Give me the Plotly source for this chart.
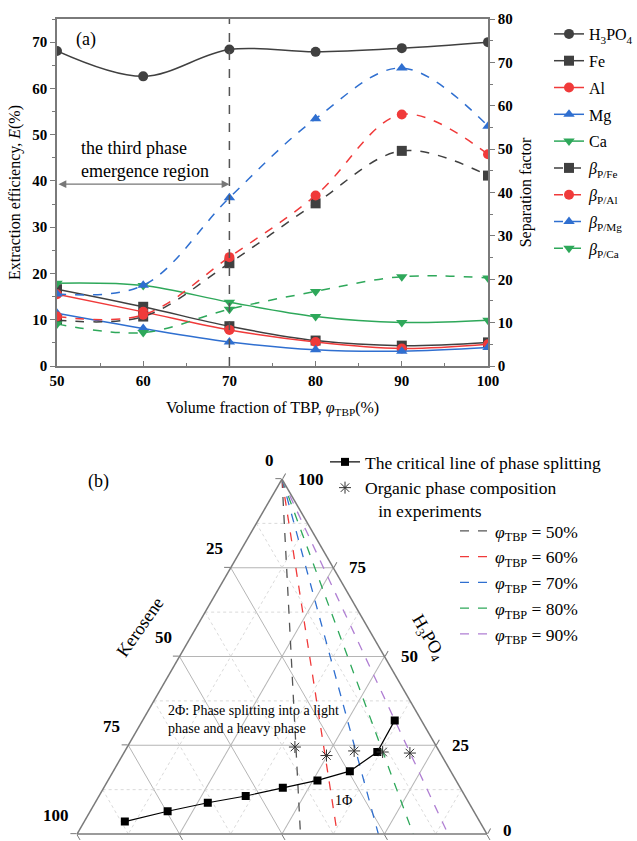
import plotly.graph_objects as go

# ---------------- data : panel (a) ----------------
tbp_fraction = [50, 60, 70, 80, 90, 100]
e_h3po4 = [68.1, 62.6, 68.4, 67.9, 68.7, 70.0]
e_fe = [16.6, 12.8, 8.6, 5.5, 4.4, 5.1]
e_al = [15.5, 11.7, 7.8, 5.2, 3.8, 4.7]
e_mg = [11.4, 8.1, 5.2, 3.5, 3.2, 4.0]
e_ca = [17.9, 17.4, 13.8, 10.7, 9.4, 9.9]
beta_fe = [10.6, 11.4, 23.7, 37.5, 49.6, 43.9]
beta_al = [11.4, 11.8, 25.1, 39.3, 58.0, 48.8]
beta_mg = [16.6, 18.6, 38.8, 57.0, 68.7, 55.3]
beta_ca = [9.7, 7.7, 13.1, 17.2, 20.6, 20.3]
third_phase_limit = 70
x_ticks = [50, 60, 70, 80, 90, 100]

# ---------------- data : panel (b) ----------------
crit_h3po4 = [3.5, 6.4, 8.8, 10.7, 13.0, 15.1, 17.7, 23.1, 32.0]
crit_kerosene = [86.5, 74.7, 63.7, 53.5, 43.3, 33.8, 24.6, 15.2, 6.5]
crit_tbp = [9.9, 18.9, 27.5, 35.8, 43.7, 51.1, 57.7, 61.7, 61.5]
exp_h3po4 = [24.5, 22.1, 23.4, 23.1, 22.8]
exp_kerosene = [34.6, 28.1, 20.7, 13.9, 7.4]
exp_tbp = [40.9, 49.8, 55.9, 63.0, 69.8]
phi_labels = [50, 60, 70, 80, 90]
phi_base_tbp = [54.5, 63.5, 73.5, 82.0, 90.5]
tern_major = [0, 25, 50, 75, 100]
tern_minor = [12.5, 37.5, 62.5, 87.5]

W, H = 637, 841
SERIF = "Liberation Serif"
GRAY = "#404040"
RED = "#f03a3a"
BLUE = "#2f6fd0"
GREEN = "#2ea85a"
PURPLE = "#b07fd3"
AX = "#7a7a7a"

# triangle corners (pixels) of panel (b)
APEX = (282.0, 479.0)
BL = (77.0, 834.0)
BR = (487.0, 834.0)

fig = go.Figure()


def px_x(p):
    return p / W


def px_y(p):
    return 1 - p / H


solid = [("H<sub>3</sub>PO<sub>4</sub>", e_h3po4, GRAY, "circle"),
         ("Fe", e_fe, GRAY, "square"),
         ("Al", e_al, RED, "circle"),
         ("Mg", e_mg, BLUE, "triangle-up"),
         ("Ca", e_ca, GREEN, "triangle-down")]
for name, vals, col, sym in solid:
    fig.add_trace(go.Scatter(x=tbp_fraction, y=vals, name=name, mode="lines+markers",
                             line=dict(color=col, width=1.5, shape="spline"),
                             marker=dict(symbol=sym, size=10, color=col),
                             legendgroup=name, xaxis="x", yaxis="y", legend="legend"))
dashed = [("<i>β</i><sub>P/Fe</sub>", beta_fe, GRAY, "square"),
          ("<i>β</i><sub>P/Al</sub>", beta_al, RED, "circle"),
          ("<i>β</i><sub>P/Mg</sub>", beta_mg, BLUE, "triangle-up"),
          ("<i>β</i><sub>P/Ca</sub>", beta_ca, GREEN, "triangle-down")]
for name, vals, col, sym in dashed:
    fig.add_trace(go.Scatter(x=tbp_fraction, y=vals, name=name, mode="lines+markers",
                             line=dict(color=col, width=1.5, shape="spline", dash="dash"),
                             marker=dict(symbol=sym, size=10, color=col),
                             legendgroup=name, xaxis="x", yaxis="y2", legend="legend"))

fig.add_vline(x=third_phase_limit, line=dict(color="#555555", width=1.5, dash="dash"))

# ---------------- ternary ----------------
for v in tern_minor:
    for a, b, c in [([v, v], [100 - v, 0], [0, 100 - v]),
                    ([100 - v, 0], [v, v], [0, 100 - v]),
                    ([100 - v, 0], [0, 100 - v], [v, v])]:
        fig.add_trace(go.Scatterternary(a=a, b=b, c=c, mode="lines", showlegend=False,
                                        hoverinfo="skip",
                                        line=dict(color="#d0d0d0", width=0.8, dash="dot")))

phi_cols = ["#555555", RED, BLUE, GREEN, PURPLE]
for lab, c0, col in zip(phi_labels, phi_base_tbp, phi_cols):
    nm = f"<i>φ</i><sub>TBP</sub> = {lab}%"
    fig.add_trace(go.Scatterternary(a=[100, 0], b=[0, 100 - c0], c=[0, c0],
                                    name=nm, legendgroup=nm,
                                    mode="lines", line=dict(color=col, width=1.3, dash="dash"),
                                    legend="legend3"))

fig.add_trace(go.Scatterternary(a=crit_h3po4, b=crit_kerosene, c=crit_tbp,
                                name="The critical line of phase splitting",
                                mode="lines+markers", line=dict(color="black", width=1.2),
                                marker=dict(symbol="square", size=8, color="black"),
                                legend="legend2"))
fig.add_trace(go.Scatterternary(a=exp_h3po4, b=exp_kerosene, c=exp_tbp,
                                name="Organic phase composition<br>   in experiments",
                                mode="markers",
                                marker=dict(symbol="asterisk-open", size=10, color="#333333",
                                            line=dict(color="#333333", width=1)),
                                legend="legend2"))

tern_axis = dict(tickvals=tern_major, ticks="outside", ticklen=6, tickcolor=AX,
                 linecolor=AX, linewidth=1.5, showline=True, gridcolor="#b5b5b5",
                 gridwidth=1, showticklabels=False, title=dict(text=""))

fig.update_layout(
    width=W, height=H,
    margin=dict(l=0, r=0, t=0, b=0, autoexpand=False),
    paper_bgcolor="white", plot_bgcolor="white",
    font=dict(family=SERIF, size=15, color="black"),
    xaxis=dict(domain=[px_x(57), px_x(488)], range=[50, 100], anchor="y",
               tickvals=x_ticks, ticks="inside", ticklen=5, tickcolor=AX,
               minor=dict(dtick=5, ticks="inside", ticklen=3, tickcolor=AX),
               showline=True, linecolor=AX, linewidth=1.5, mirror=True,
               showgrid=False, zeroline=False, automargin=False,
               tickfont=dict(family=SERIF, size=15, weight="bold"),
               title=dict(text="Volume fraction of TBP, <i>φ</i><sub>TBP</sub>(%)",
                          font=dict(family=SERIF, size=16), standoff=14)),
    yaxis=dict(domain=[px_y(366), px_y(19)], range=[0, 75], anchor="x",
               dtick=10, ticks="outside", ticklen=5, tickcolor=AX,
               minor=dict(dtick=5, ticks="outside", ticklen=3, tickcolor=AX),
               showline=True, linecolor=AX, linewidth=1.5,
               showgrid=False, zeroline=False, automargin=False,
               tickfont=dict(family=SERIF, size=15, weight="bold"),
               title=dict(text="Extraction efficiency, <i>E</i>(%)",
                          font=dict(family=SERIF, size=16), standoff=8)),
    yaxis2=dict(overlaying="y", side="right", anchor="x", range=[0, 80],
                dtick=10, ticks="outside", ticklen=5, tickcolor=AX,
                minor=dict(dtick=5, ticks="outside", ticklen=3, tickcolor=AX),
                showline=True, linecolor=AX, linewidth=1.5,
                showgrid=False, zeroline=False, automargin=False,
                tickfont=dict(family=SERIF, size=15, weight="bold"),
                title=dict(text="Separation factor", font=dict(family=SERIF, size=16),
                           standoff=8)),
    ternary=dict(domain=dict(x=[px_x(BL[0]), px_x(BR[0])], y=[px_y(BL[1]), px_y(APEX[1])]),
                 sum=100, bgcolor="white",
                 aaxis=dict(tern_axis),
                 baxis=dict(tern_axis),
                 caxis=dict(tern_axis)),
    legend=dict(x=px_x(549), y=px_y(17), xanchor="left", yanchor="top",
                bgcolor="rgba(0,0,0,0)", font=dict(family=SERIF, size=16),
                tracegroupgap=3, itemwidth=30, traceorder="grouped"),
    legend2=dict(x=px_x(325), y=px_y(444), xanchor="left", yanchor="top",
                 bgcolor="rgba(0,0,0,0)", font=dict(family=SERIF, size=17.5),
                 tracegroupgap=0, itemwidth=30, valign="top"),
    legend3=dict(x=px_x(455), y=px_y(513), xanchor="left", yanchor="top",
                 bgcolor="rgba(0,0,0,0)", font=dict(family=SERIF, size=17.5),
                 tracegroupgap=1, itemwidth=30, traceorder="normal"),
    showlegend=True,
)

ann = [
    dict(text="(a)", x=px_x(74), y=px_y(39), xref="paper", yref="paper",
         xanchor="left", yanchor="middle", showarrow=False, font=dict(size=18)),
    dict(text="the third phase<br>emergence region", x=52.55, y=44.6, xref="x", yref="y",
         xanchor="left", yanchor="middle", align="left", showarrow=False,
         font=dict(size=18)),
    dict(text="", x=third_phase_limit, y=39.3, ax=50, ay=39.3, xref="x", yref="y",
         axref="x", ayref="y", showarrow=True, arrowside="end+start", arrowhead=2,
         startarrowhead=2, arrowsize=1.2, startarrowsize=1.2, arrowwidth=1.3,
         arrowcolor="#777777", standoff=0, startstandoff=0),
    dict(text="(b)", x=px_x(86), y=px_y(481), xref="paper", yref="paper",
         xanchor="left", yanchor="middle", showarrow=False, font=dict(size=18)),
    dict(text="2Φ: Phase splitting into a light<br>phase and a heavy phase",
         x=px_x(166), y=px_y(719), xref="paper", yref="paper", xanchor="left",
         yanchor="middle", align="left", showarrow=False, font=dict(size=14)),
    dict(text="1Φ", x=px_x(343), y=px_y(800), xref="paper", yref="paper",
         xanchor="center", yanchor="middle", showarrow=False, font=dict(size=14)),
    dict(text="Kerosene", x=px_x(140), y=px_y(627), xref="paper", yref="paper",
         xanchor="center", yanchor="middle", showarrow=False, textangle=-55,
         font=dict(size=18)),
    dict(text="H<sub>3</sub>PO<sub>4</sub>", x=px_x(428), y=px_y(637), xref="paper",
         yref="paper", xanchor="center", yanchor="middle", showarrow=False, textangle=60,
         font=dict(size=18)),
]

# ternary tick labels: kerosene on the left edge, H3PO4 on the right edge
tick_font = dict(family=SERIF, size=17, weight="bold")
for v in tern_major:
    t = v / 100
    lx = APEX[0] + t * (BL[0] - APEX[0])
    ly = APEX[1] + t * (BL[1] - APEX[1])
    ann.append(dict(text=str(v), x=px_x(lx - 6), y=px_y(ly - 19), xref="paper",
                    yref="paper", xanchor="right", yanchor="middle", showarrow=False,
                    font=tick_font))
    rx = APEX[0] + (1 - t) * (BR[0] - APEX[0])
    ry = APEX[1] + (1 - t) * (BR[1] - APEX[1])
    ann.append(dict(text=str(v), x=px_x(rx + 14), y=px_y(min(ry, 830)), xref="paper",
                    yref="paper", xanchor="left", yanchor="middle", showarrow=False,
                    font=tick_font))
fig.update_layout(annotations=ann)

fig.write_html("out.html")
